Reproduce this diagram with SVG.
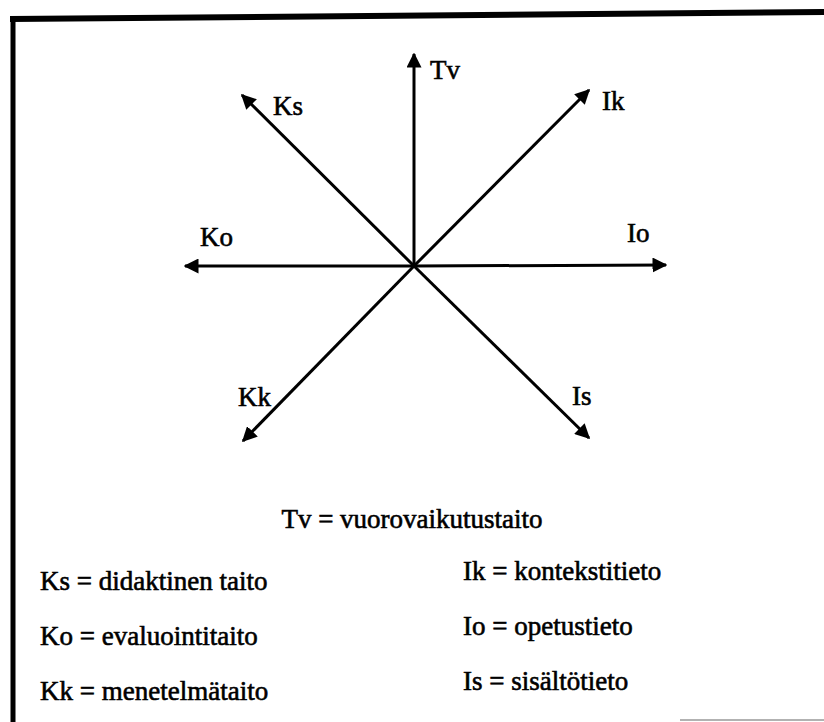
<svg xmlns="http://www.w3.org/2000/svg" width="824" height="722" viewBox="0 0 824 722">
<style>
.t{font-family:"Liberation Serif","Times New Roman",serif;font-size:27px;fill:#000;stroke:#000;stroke-width:0.6}
.ax{stroke:#000;stroke-width:3;fill:none;marker-end:url(#ah)}
</style>
<defs>
<marker id="ah" viewBox="0 0 10 10" refX="9" refY="5" markerWidth="5" markerHeight="5" markerUnits="strokeWidth" orient="auto">
<path d="M0,0 L10,5 L0,10 Z" fill="#000"/>
</marker>
</defs>
<rect width="824" height="722" fill="#fff"/>
<g id="frame">
<path d="M10,19 L824,12" stroke="#000" stroke-width="6"/>
<path d="M13,16 L13,722" stroke="#000" stroke-width="5"/>
<path d="M680,720 L824,720" stroke="#999" stroke-width="1.5"/>
</g>
<g id="connectors">
<line class="ax" x1="414" y1="266" x2="414" y2="54"/>
<line class="ax" x1="414" y1="266" x2="242" y2="95"/>
<line class="ax" x1="414" y1="266" x2="589" y2="90"/>
<line class="ax" x1="414" y1="266" x2="185" y2="266"/>
<line class="ax" x1="414" y1="266" x2="666" y2="265"/>
<line class="ax" x1="414" y1="266" x2="243" y2="441"/>
<line class="ax" x1="414" y1="266" x2="589" y2="438"/>
</g>
<g id="node-Tv"><text class="t" x="430" y="79">Tv</text></g>
<g id="node-Ks"><text class="t" x="273" y="115">Ks</text></g>
<g id="node-Ik"><text class="t" x="602" y="110">Ik</text></g>
<g id="node-Ko"><text class="t" x="200" y="246">Ko</text></g>
<g id="node-Io"><text class="t" x="627" y="242">Io</text></g>
<g id="node-Kk"><text class="t" x="238" y="406">Kk</text></g>
<g id="node-Is"><text class="t" x="572" y="405">Is</text></g>
<g id="legend">
<text class="t" x="412" y="528" text-anchor="middle">Tv = vuorovaikutustaito</text>
<text class="t" x="40" y="590">Ks = didaktinen taito</text>
<text class="t" x="40" y="645">Ko = evaluointitaito</text>
<text class="t" x="40" y="700">Kk = menetelmätaito</text>
<text class="t" x="463" y="580">Ik = kontekstitieto</text>
<text class="t" x="463" y="635">Io = opetustieto</text>
<text class="t" x="463" y="690">Is = sisältötieto</text>
</g>
</svg>
